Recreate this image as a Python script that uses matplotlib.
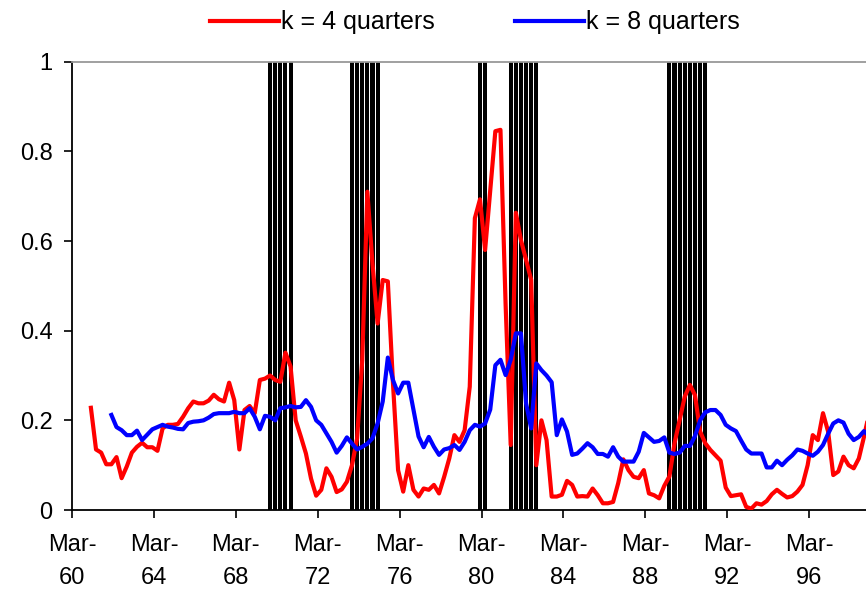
import matplotlib
matplotlib.use("Agg")
import matplotlib.pyplot as plt
import numpy as np

plt.rcParams["font.family"] = ["Liberation Sans", "DejaVu Sans"]

# quarterly index: 0 = Mar-60
RED_START, BLUE_START = 4, 8
red_k4 = [
    0.228, 0.135, 0.128, 0.102, 0.102, 0.118, 0.071, 0.097, 0.128, 0.141,
    0.150, 0.140, 0.140, 0.132, 0.182, 0.190, 0.190, 0.192, 0.208, 0.227,
    0.242, 0.238, 0.238, 0.244, 0.257, 0.247, 0.242, 0.284, 0.245, 0.135,
    0.223, 0.232, 0.216, 0.290, 0.293, 0.300, 0.290, 0.286, 0.351, 0.320,
    0.200, 0.164, 0.126, 0.070, 0.032, 0.045, 0.093, 0.074, 0.040, 0.046,
    0.063, 0.100, 0.160, 0.335, 0.710, 0.550, 0.416, 0.513, 0.510, 0.283,
    0.089, 0.041, 0.100, 0.045, 0.030, 0.048, 0.045, 0.056, 0.037, 0.074,
    0.115, 0.167, 0.152, 0.178, 0.275, 0.651, 0.693, 0.580, 0.712, 0.845,
    0.848, 0.460, 0.145, 0.663, 0.602, 0.558, 0.513, 0.100, 0.200, 0.156,
    0.030, 0.030, 0.034, 0.065, 0.056, 0.030, 0.031, 0.030, 0.048, 0.033,
    0.015, 0.015, 0.018, 0.060, 0.113, 0.089, 0.074, 0.071, 0.089, 0.037,
    0.033, 0.026, 0.054, 0.075, 0.149, 0.201, 0.253, 0.279, 0.256, 0.175,
    0.149, 0.134, 0.122, 0.110, 0.050, 0.031, 0.033, 0.035, 0.007, 0.003,
    0.015, 0.012, 0.020, 0.035, 0.045, 0.036, 0.028, 0.031, 0.041, 0.056,
    0.100, 0.167, 0.156, 0.216, 0.175, 0.078, 0.086, 0.119, 0.100, 0.093,
    0.115, 0.163, 0.215,
]
blue_k8 = [
    0.212, 0.185, 0.178, 0.167, 0.167, 0.177, 0.156, 0.168, 0.180, 0.185,
    0.190, 0.186, 0.184, 0.181, 0.180, 0.194, 0.197, 0.198, 0.200, 0.206,
    0.214, 0.216, 0.216, 0.216, 0.219, 0.216, 0.216, 0.227, 0.208, 0.180,
    0.210, 0.208, 0.200, 0.227, 0.229, 0.232, 0.229, 0.230, 0.245, 0.230,
    0.200, 0.190, 0.171, 0.152, 0.128, 0.143, 0.162, 0.148, 0.135, 0.141,
    0.148, 0.160, 0.193, 0.242, 0.340, 0.290, 0.260, 0.284, 0.284, 0.224,
    0.164, 0.140, 0.163, 0.141, 0.123, 0.135, 0.138, 0.145, 0.134, 0.152,
    0.178, 0.190, 0.186, 0.193, 0.224, 0.323, 0.335, 0.301, 0.335, 0.394,
    0.394, 0.238, 0.182, 0.327, 0.312, 0.300, 0.285, 0.167, 0.202, 0.175,
    0.123, 0.126, 0.137, 0.149, 0.140, 0.125, 0.125, 0.119, 0.140, 0.119,
    0.108, 0.108, 0.108, 0.130, 0.172, 0.162, 0.152, 0.154, 0.162, 0.128,
    0.125, 0.128, 0.143, 0.143, 0.165, 0.200, 0.218, 0.223, 0.223, 0.212,
    0.190, 0.182, 0.176, 0.155, 0.135, 0.126, 0.126, 0.126, 0.095, 0.095,
    0.110, 0.100, 0.112, 0.122, 0.135, 0.132, 0.126, 0.121, 0.130, 0.145,
    0.170, 0.193, 0.200, 0.195, 0.170, 0.156, 0.163, 0.176, 0.165,
]
# recession quarters (index from Mar-60)
recession_q = [39, 40, 41, 42, 43, 55, 56, 57, 58, 59, 60, 80, 81,
               86, 87, 88, 89, 90, 91, 117, 118, 119, 120, 121, 122, 123, 124]
tick_q = [0, 16, 32, 48, 64, 80, 96, 112, 128, 144]
tick_years = ["60", "64", "68", "72", "76", "80", "84", "88", "92", "96"]

SHIFT = -0.3
fig = plt.figure(figsize=(8.66, 5.92), dpi=100)
ax = fig.add_axes([0.0831, 0.1385, 0.9169, 0.7573])

ax.bar(np.array(recession_q) + SHIFT, 1.0, width=0.8, color="black",
       edgecolor="none", zorder=1)
xr = np.arange(RED_START, RED_START + len(red_k4)) + SHIFT
xb = np.arange(BLUE_START, BLUE_START + len(blue_k8)) + SHIFT
ax.plot(xr, red_k4, color="#FF0000", lw=3.0, zorder=3, label="k = 4 quarters")
ax.plot(xb, blue_k8, color="#0000FF", lw=3.0, zorder=4, label="k = 8 quarters")

ax.set_xlim(0, 155.1)
ax.set_ylim(0, 1)
ax.set_yticks([0, 0.2, 0.4, 0.6, 0.8, 1.0])
ax.set_yticklabels(["0", "0.2", "0.4", "0.6", "0.8", "1"])
ax.set_xticks(tick_q)
ax.set_xticklabels(["Mar-\n" + y for y in tick_years], linespacing=1.65)
ax.tick_params(axis="y", direction="out", length=6, width=1.2, labelsize=17, pad=8)
ax.tick_params(axis="x", direction="out", length=6, width=1.2, labelsize=17, pad=11)

for s in ("left", "bottom"):
    ax.spines[s].set_color("black")
    ax.spines[s].set_linewidth(1.3)
ax.spines["top"].set_color("#999999")
ax.spines["top"].set_linewidth(1.3)
ax.spines["right"].set_visible(False)

fig.legend(loc="center", bbox_to_anchor=(0.5485, 0.962), ncol=2, frameon=False,
           fontsize=18, handlelength=2.75, handletextpad=0.1, columnspacing=3.2)

fig.savefig("out.png", dpi=100, facecolor="white")
